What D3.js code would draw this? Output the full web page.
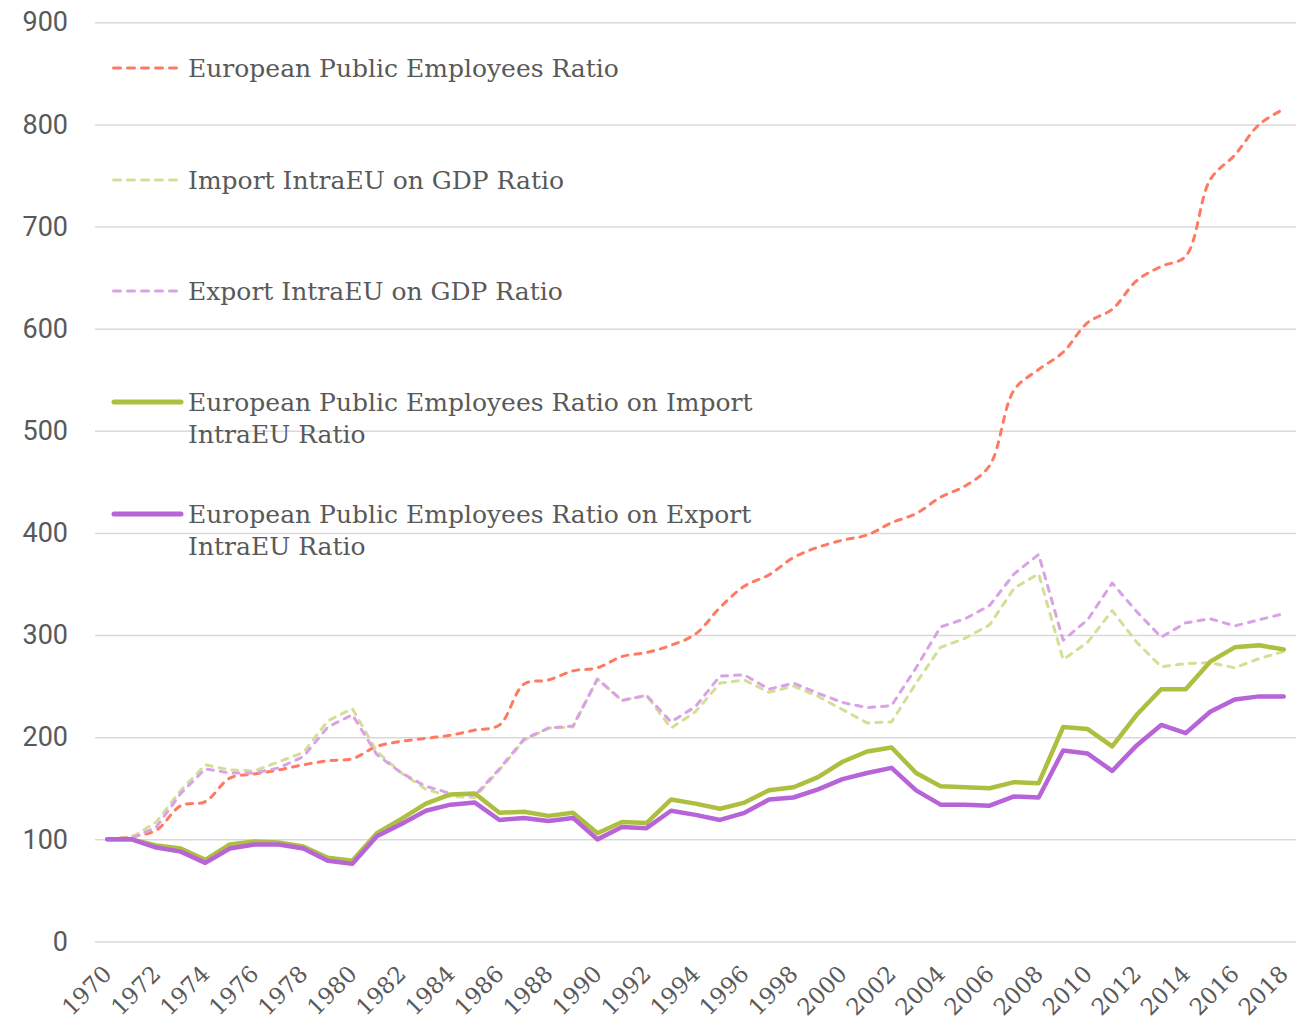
<!DOCTYPE html>
<html>
<head>
<meta charset="utf-8">
<script src="https://cdn.jsdelivr.net/npm/d3@7"></script>
<style>
  body { margin: 0; background: #fff; }
  #chart-holder { width: 1309px; height: 1026px; }
</style>
</head>
<body>
<div id="chart-holder"></div>
<script>
// Years on the category axis
var years = d3.range(1970, 2019);
var xLabels = d3.range(1970, 2019, 2);
var yTicks = [0, 100, 200, 300, 400, 500, 600, 700, 800, 900];

// Series values (index 1970 = 100)
var publicEmployees = [100, 103, 109, 133, 137, 160, 164, 168, 173, 177,
  179, 191, 196, 199, 202, 207, 212, 252, 256, 265,
  268, 279, 283, 290, 301, 327, 348, 359, 376, 386,
  393, 398, 410, 419, 435, 446, 466, 540, 560, 577,
  606, 619, 647, 661, 671, 746, 770, 800, 815];
var importGdp = [100, 102, 117, 148, 173, 168, 167, 176, 185, 216,
  228, 186, 165, 149, 142, 141, 168, 197, 209, 210,
  257, 236, 241, 209, 225, 253, 256, 244, 250, 240,
  227, 214, 215, 253, 288, 297, 310, 346, 360, 276,
  293, 324, 293, 269, 272, 273, 268, 277, 284];
var exportGdp = [100, 101, 112, 145, 169, 165, 165, 170, 181, 210,
  222, 183, 165, 152, 145, 143, 169, 198, 209, 211,
  257, 236, 241, 215, 230, 260, 261, 247, 253, 243,
  234, 229, 231, 268, 308, 316, 329, 360, 379, 295,
  315, 351, 323, 298, 312, 316, 309, 315, 321];
var ratioOnImport = [100, 100, 94, 91, 80, 95, 98, 97, 93, 82,
  79, 106, 120, 135, 144, 145, 126, 127, 123, 126,
  106, 117, 116, 139, 135, 130, 136, 148, 151, 161,
  176, 186, 190, 165, 152, 151, 150, 156, 155, 210,
  208, 191, 222, 247, 247, 274, 288, 290, 286];
var ratioOnExport = [100, 100, 92, 88, 77, 91, 95, 95, 91, 79,
  76, 103, 115, 128, 134, 136, 119, 121, 118, 121,
  100, 112, 111, 128, 124, 119, 126, 139, 141, 149,
  159, 165, 170, 148, 134, 134, 133, 142, 141, 187,
  184, 167, 192, 212, 204, 225, 237, 240, 240];

var seriesNames = ["European Public Employees Ratio",
  "Import IntraEU on GDP Ratio",
  "Export IntraEU on GDP Ratio",
  "European Public Employees Ratio on Import IntraEU Ratio",
  "European Public Employees Ratio on Export IntraEU Ratio"];

// Build the series table from the arrays above
var series = [
  { name: seriesNames[0], values: publicEmployees, color: "#FF7A62", dashed: true, smooth: true },
  { name: seriesNames[1], values: importGdp, color: "#D5DE96", dashed: true },
  { name: seriesNames[2], values: exportGdp, color: "#D9A2E7", dashed: true },
  { name: seriesNames[3], values: ratioOnImport, color: "#AEBF3F", dashed: false },
  { name: seriesNames[4], values: ratioOnExport, color: "#B764D8", dashed: false }
];

var width = 1309;
var height = 1026;
var plotLeft = 95, plotRight = 1296;
var textColor = "#595959";
var slab = "'DejaVu Serif', serif";

var svg = d3.select("#chart-holder")
  .append("svg")
  .attr("width", width)
  .attr("height", height);

var x = d3.scalePoint()
  .domain(years)
  .range([plotLeft, plotRight])
  .padding(0.5);

var y = d3.scaleLinear()
  .domain([0, 900])
  .range([941.5, 22.3]);

// Gridlines + y labels
var yAxis = svg.append("g")
  .attr("transform", "translate(" + plotLeft + ",0)")
  .call(d3.axisLeft(y)
    .tickValues(yTicks)
    .tickSize(-(plotRight - plotLeft))
    .tickPadding(27));
yAxis.select(".domain").remove();
yAxis.selectAll("line")
  .attr("stroke", "#D9D9D9")
  .attr("stroke-width", 1.5);
yAxis.selectAll("text")
  .attr("fill", textColor)
  .style("font-family", "Roboto, sans-serif")
  .style("font-size", "27px");

// x labels, rotated
var xAxis = svg.append("g")
  .attr("transform", "translate(0,966)")
  .call(d3.axisBottom(x).tickValues(xLabels).tickSize(0).tickPadding(0));
xAxis.select(".domain").remove();
xAxis.selectAll("text")
  .attr("fill", textColor)
  .style("font-family", slab)
  .style("font-size", "23px")
  .attr("text-anchor", "end")
  .attr("dy", "0.7em")
  .attr("transform", "translate(-6,-2) rotate(-45)");

// Lines
var g = svg.append("g").attr("class", "lines");
series.forEach(function(s) {
  var line = d3.line()
    .x(function(d, i) { return x(years[i]); })
    .y(function(d) { return y(d); })
    .curve(s.smooth ? d3.curveCatmullRom : d3.curveLinear);
  g.append("path")
    .datum(s.values)
    .attr("d", line)
    .attr("fill", "none")
    .attr("stroke", s.color)
    .attr("stroke-width", s.dashed ? 3 : 4.5)
    .attr("stroke-dasharray", s.dashed ? "6,7" : null)
    .attr("stroke-linejoin", "round")
    .attr("stroke-linecap", "round");
});

// Legend
var legendY = [68, 180, 291, 402, 514];
var legend = svg.append("g").attr("class", "legend");
series.forEach(function(s, i) {
  var item = legend.append("g").attr("transform", "translate(0," + legendY[i] + ")");
  item.append("line")
    .attr("x1", s.dashed ? 113.5 : 114)
    .attr("x2", s.dashed ? 182 : 181)
    .attr("y1", 0).attr("y2", 0)
    .attr("stroke", s.color)
    .attr("stroke-width", s.dashed ? 3 : 5)
    .attr("stroke-dasharray", s.dashed ? "7,7" : null)
    .attr("stroke-linecap", "round");
  var words = s.name.split(" ");
  var lines = s.name.length > 40
    ? [words.slice(0, 6).join(" "), words.slice(6).join(" ")]
    : [s.name];
  var text = item.append("text")
    .attr("fill", textColor)
    .style("font-family", slab)
    .style("font-size", "25px");
  lines.forEach(function(t, j) {
    text.append("tspan")
      .attr("x", 188)
      .attr("y", j * 32)
      .attr("dy", "0.35em")
      .text(t);
  });
});
</script>
</body>
</html>
